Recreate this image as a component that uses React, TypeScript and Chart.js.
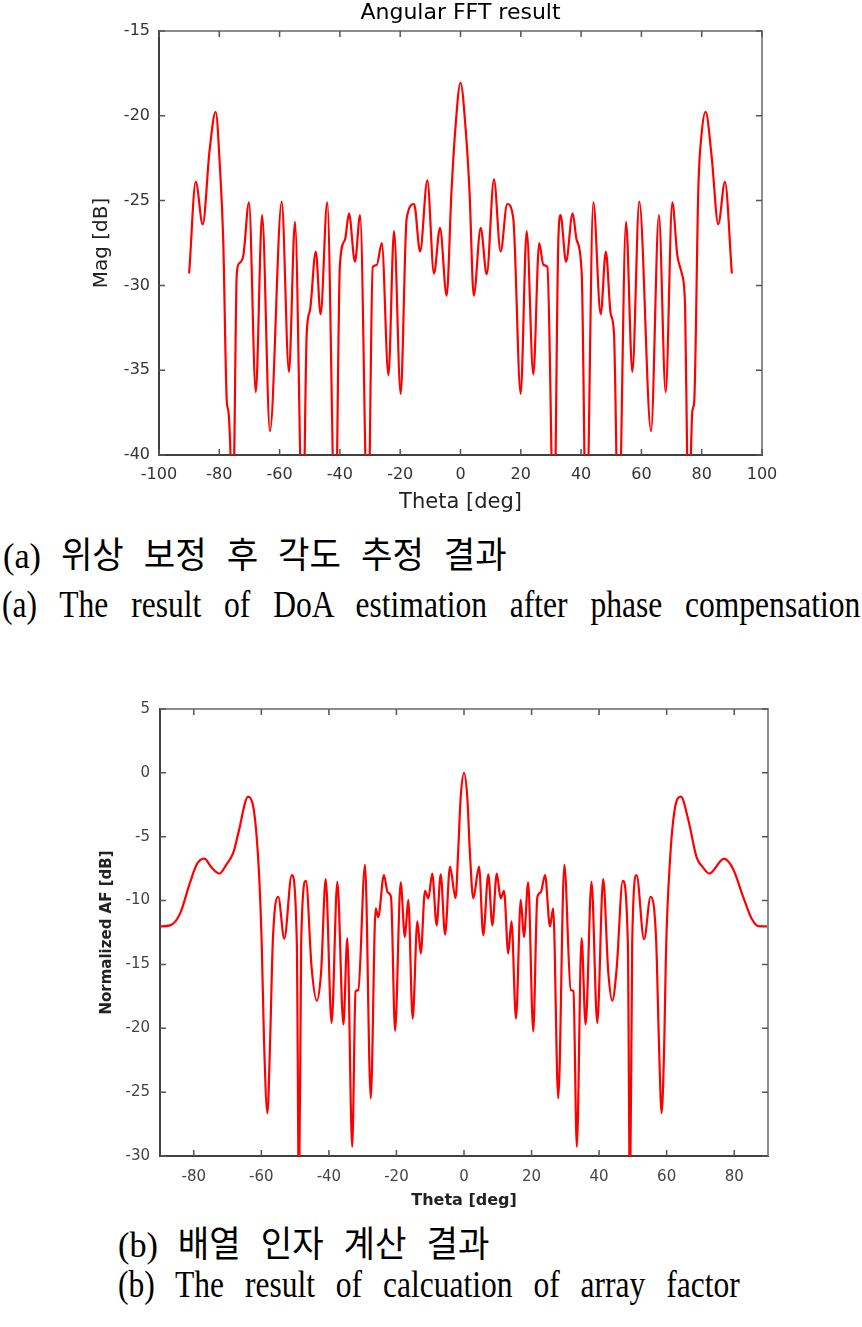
import React, { useEffect, useRef } from 'react';
import { Chart, registerables } from 'chart.js';

Chart.register(...registerables);

// ---------- (a) Angular FFT result ----------
const fftTheta = [
  -90, -87.8, -85.5, -83.2, -81.2, -79.8, -78.7, -77.5, -77.0, -76.2, -75.7, -75.1, -74.2, -73.4, -72.0,
  -70.15, -67.9, -65.8, -63.2, -59.3, -56.9, -54.9, -52.3, -51.0, -49.9, -48.0, -46.4, -44.2, -41.5,
  -40.0, -38.3, -37.0, -35.0, -33.3, -30.7, -29.1, -27.8, -26.1, -23.9, -22.05, -19.85, -17.85, -15.4,
  -13.4, -11.0, -8.8, -6.8, -4.6, -3.0, -1.8, 0, 1.8, 3.0, 4.4, 6.7, 8.7, 11.1, 13.3, 15.5, 17.5, 19.95,
  21.95, 24.15, 26.1, 27.5, 28.8, 31.0, 32.4, 33.2, 35.0, 37.2, 38.5, 40.2, 41.7, 44.05, 46.5, 48.2,
  49.8, 50.9, 52.4, 54.9, 57.0, 59.3, 63.2, 65.8, 68.05, 70.25, 71.9, 73.4, 74.5, 75.2, 75.8, 76.35,
  76.9, 77.5, 78.9, 80.0, 81.3, 83.3, 85.5, 87.7, 90,
];
const fftMag = [
  -29.3, -23.9, -26.4, -22.0, -19.76, -23.0, -27.3, -36.9, -37.4, -40.5, -45, -40.5, -29.3, -28.7, -28.2,
  -25.1, -36.3, -25.85, -38.6, -25.06, -35.1, -26.25, -45, -32.8, -31.45, -28.0, -31.7, -25.1, -45,
  -28.8, -27.3, -25.75, -28.6, -25.85, -45, -28.9, -28.8, -27.5, -35.3, -26.8, -36.4, -26.05, -25.2,
  -28.0, -23.8, -29.3, -26.6, -30.6, -24.5, -21.0, -18.05, -21.0, -24.5, -30.6, -26.6, -29.35, -23.75, -28.0, -25.2, -26.05, -36.4,
  -26.8, -35.25, -27.5, -28.8, -28.9, -45, -27.7, -25.85, -28.6, -25.75, -27.3, -29.3, -45, -25.1, -31.7, -28.0,
  -31.65, -32.8, -45, -26.25, -35.1, -25.06, -38.6, -25.85, -36.3, -25.1, -28.2, -29.3, -31.25, -40.5, -45, -40.5,
  -37.4, -36.9, -24.2, -21.0, -19.76, -22.4, -26.4, -23.9, -29.3,
];
const fftXTicks = [-100, -80, -60, -40, -20, 0, 20, 40, 60, 80, 100];
const fftYTicks = [-40, -35, -30, -25, -20, -15];

// ---------- (b) Normalized array factor ----------
const afTheta = [
  -90, -87.0, -84.1, -81.1, -79.1, -76.9, -74.7, -72.4, -70.3, -68.3, -66.8, -63.9, -62.4, -61.4, -60.6,
  -59.9, -59.2, -58.2, -57.4, -56.6, -55.0, -53.2, -51.0, -49.5, -48.85, -48.2, -46.8, -45.1, -43.6,
  -42.3, -40.95, -39.2, -37.5, -35.7, -34.55, -33.1, -32.1, -31.3, -29.3, -27.6, -26.15, -25.4, -23.7,
  -22.6, -21.6, -20.4, -18.75, -17.5, -16.5, -15.2, -13.8, -12.8, -11.55, -10.55, -9.4, -8.1, -6.9,
  -5.6, -4.15, -2.5, -1.7, -1.0, 0, 1.0, 1.7, 2.75, 4.45, 5.7, 7.2, 8.4, 9.7, 10.85, 11.85, 13.1, 14.05,
  15.4, 16.8, 17.75, 19.0, 20.5, 21.7, 22.7, 24.0, 25.45, 26.4, 27.9, 29.7, 31.6, 32.4, 33.4, 34.8,
  36.0, 37.75, 39.45, 41.2, 42.7, 43.9, 45.2, 47.0, 48.5, 49.15, 49.8, 51.1, 53.3, 55.25, 56.9, 57.7,
  58.5, 59.3, 59.8, 61.0, 62.3, 64.2, 66.4, 68.9, 70.8, 72.6, 77.0, 79.7, 82.7, 85.2, 87.1, 90,
];
const afDb = [
  -12.02, -11.94, -11.04, -8.58, -7.16, -6.72, -7.42, -7.88, -7.16, -6.25, -4.7, -1.86, -2.63, -4.96, -8.3,
  -13.2, -21.0, -26.64, -21.0, -13.2, -9.7, -12.98, -8.0, -13.2, -34, -13.2, -8.45, -15.3, -17.84,
  -15.56, -8.32, -19.57, -8.53, -19.7, -12.93, -29.28, -17.12, -17.0, -7.2, -25.5, -10.6, -11.3, -8.0,
  -9.36, -9.75, -20.2, -8.58, -12.85, -9.95, -19.24, -11.63, -14.14, -9.23, -9.83, -7.88, -11.94, -7.95,
  -12.67, -7.34, -9.8, -6.0, -2.0, 0, -2.0, -6.0, -9.82, -7.34, -12.7, -7.95, -11.94, -7.88, -9.83, -9.23, -14.14, -11.63,
  -19.24, -9.95, -12.85, -8.58, -20.25, -9.75, -9.36, -8.0, -12.02, -10.6, -25.5, -7.2, -17.0, -17.1, -29.28, -12.93,
  -19.7, -8.53, -19.57, -8.32, -15.56, -17.84, -15.3, -8.45, -13.2, -34, -13.2, -8.0, -13.03, -9.7, -13.2, -21.0,
  -26.64, -21.0, -14.0, -6.77, -3.0, -1.86, -3.67, -6.64, -7.42, -7.88, -6.72, -7.55, -9.75, -11.43, -12.0, -12.02,
];
const afXTicks = [-80, -60, -40, -20, 0, 20, 40, 60, 80];
const afYTicks = [-30, -25, -20, -15, -10, -5, 0, 5];

const SANS = "'DejaVu Sans', 'Liberation Sans', sans-serif";

const framePlugin = {
  id: 'frameTicks',
  afterDatasetsDraw(chart: any) {
    const { ctx, chartArea: a, scales } = chart;
    const xs = scales.x;
    const ys = scales.y;
    const L = 6;
    ctx.save();
    ctx.lineWidth = 2;
    ctx.strokeStyle = '#8c8c8c';
    ctx.beginPath();
    ctx.moveTo(a.left, a.top);
    ctx.lineTo(a.right, a.top);
    ctx.lineTo(a.right, a.bottom);
    ctx.stroke();
    ctx.lineWidth = 1.5;
    ctx.strokeStyle = '#555';
    ctx.beginPath();
    xs.ticks.forEach((t: any) => {
      const p = xs.getPixelForValue(t.value);
      ctx.moveTo(p, a.bottom);
      ctx.lineTo(p, a.bottom - L);
      ctx.moveTo(p, a.top);
      ctx.lineTo(p, a.top + L);
    });
    ys.ticks.forEach((t: any) => {
      const p = ys.getPixelForValue(t.value);
      ctx.moveTo(a.left, p);
      ctx.lineTo(a.left + L, p);
      ctx.moveTo(a.right, p);
      ctx.lineTo(a.right - L, p);
    });
    ctx.stroke();
    ctx.restore();
  },
};

function lineDataset(xs: number[], ys: number[]) {
  return {
    data: xs.map((x, i) => ({ x, y: ys[i] })),
    borderColor: '#ff0000',
    borderWidth: 2.2,
    pointRadius: 0,
    fill: false,
    cubicInterpolationMode: 'monotone' as const,
  };
}

function config1(): any {
  return {
    type: 'line',
    data: { datasets: [lineDataset(fftTheta, fftMag)] },
    plugins: [framePlugin],
    options: {
      responsive: false,
      animation: false,
      events: [],
      layout: { padding: { left: 0, right: 100, top: 0, bottom: 0 } },
      plugins: {
        legend: { display: false },
        tooltip: { enabled: false },
        title: {
          display: true,
          fullSize: false,
          text: 'Angular FFT result',
          color: '#000',
          font: { family: SANS, size: 22, weight: 'normal', lineHeight: '20px' },
          padding: { top: 3, bottom: 8 },
        },
      },
      scales: {
        x: {
          type: 'linear',
          position: 'bottom',
          min: -100,
          max: 100,
          afterBuildTicks: (s: any) => { s.ticks = fftXTicks.map((v) => ({ value: v })); },
          afterFit: (s: any) => { s.height = 65; },
          grid: { display: false, drawTicks: false },
          border: { display: true, color: '#404040', width: 2 },
          ticks: { font: { family: SANS, size: 16 }, color: '#333', padding: 10, maxRotation: 0, autoSkip: false },
          title: {
            display: true,
            text: 'Theta [deg]',
            color: '#222',
            font: { family: SANS, size: 21 },
            padding: { top: 0, bottom: 5 },
          },
        },
        y: {
          type: 'linear',
          min: -40,
          max: -15,
          afterBuildTicks: (s: any) => { s.ticks = fftYTicks.map((v) => ({ value: v })); },
          afterFit: (s: any) => { s.width = 159; },
          grid: { display: false, drawTicks: false },
          border: { display: true, color: '#404040', width: 2 },
          ticks: { font: { family: SANS, size: 16 }, color: '#333', padding: 9 },
          title: {
            display: true,
            text: 'Mag [dB]',
            color: '#222',
            font: { family: SANS, size: 20 },
            padding: { top: 90, bottom: 0 },
          },
        },
      },
    },
  };
}

function config2(): any {
  return {
    type: 'line',
    data: { datasets: [lineDataset(afTheta, afDb)] },
    plugins: [framePlugin],
    options: {
      responsive: false,
      animation: false,
      events: [],
      layout: { padding: { left: 0, right: 94, top: 15, bottom: 0 } },
      plugins: { legend: { display: false }, tooltip: { enabled: false }, title: { display: false } },
      scales: {
        x: {
          type: 'linear',
          position: 'bottom',
          min: -90,
          max: 90,
          afterBuildTicks: (s: any) => { s.ticks = afXTicks.map((v) => ({ value: v })); },
          afterFit: (s: any) => { s.height = 55; },
          grid: { display: false, drawTicks: false },
          border: { display: true, color: '#404040', width: 2 },
          ticks: { font: { family: SANS, size: 15 }, color: '#444', padding: 12, maxRotation: 0, autoSkip: false },
          title: {
            display: true,
            text: 'Theta [deg]',
            color: '#222',
            font: { family: SANS, size: 16, weight: 'bold' },
            padding: { top: 0, bottom: 1 },
          },
        },
        y: {
          type: 'linear',
          min: -30,
          max: 5,
          afterBuildTicks: (s: any) => { s.ticks = afYTicks.map((v) => ({ value: v })); },
          afterFit: (s: any) => { s.width = 160; },
          grid: { display: false, drawTicks: false },
          border: { display: true, color: '#404040', width: 2 },
          ticks: { font: { family: SANS, size: 15 }, color: '#444', padding: 10 },
          title: {
            display: true,
            text: 'Normalized AF [dB]',
            color: '#222',
            font: { family: SANS, size: 15, weight: 'bold' },
            padding: { top: 98, bottom: 0 },
          },
        },
      },
    },
  };
}

const capFont = "'Liberation Serif', 'Noto Sans CJK KR', serif";

const capBase: React.CSSProperties = {
  position: 'absolute',
  whiteSpace: 'nowrap',
  fontFamily: capFont,
  color: '#000',
  transformOrigin: '0 0',
  margin: 0,
};

export default function App() {
  const ref1 = useRef<HTMLCanvasElement>(null);
  const ref2 = useRef<HTMLCanvasElement>(null);

  useEffect(() => {
    const c1 = new Chart(ref1.current as HTMLCanvasElement, config1());
    const c2 = new Chart(ref2.current as HTMLCanvasElement, config2());
    return () => {
      c1.destroy();
      c2.destroy();
    };
  }, []);

  return (
    <div style={{ position: 'absolute', left: 0, top: 0, width: 862, height: 1327, background: '#fff', overflow: 'hidden' }}>
      <canvas
        ref={ref1}
        width={862}
        height={520}
        style={{ position: 'absolute', left: 0, top: 0, width: 862, height: 520 }}
      />
      <div style={{ ...capBase, left: 3, top: 538, fontSize: 36, lineHeight: '36px', wordSpacing: 12, transform: 'scaleX(0.95)' }}>
        (a) 위상 보정 후 각도 추정 결과
      </div>
      <div
        style={{
          ...capBase,
          left: 2,
          top: 585,
          fontSize: 38,
          lineHeight: '38px',
          width: 1034,
          textAlign: 'justify',
          textAlignLast: 'justify',
          transform: 'scaleX(0.83)',
        }}
      >
        (a) The result of DoA estimation after phase compensation
      </div>
      <canvas
        ref={ref2}
        width={862}
        height={521}
        style={{ position: 'absolute', left: 0, top: 690, width: 862, height: 521 }}
      />
      <div style={{ ...capBase, left: 118, top: 1227, fontSize: 36, lineHeight: '36px', wordSpacing: 12, transform: 'scaleX(0.95)' }}>
        (b) 배열 인자 계산 결과
      </div>
      <div
        style={{
          ...capBase,
          left: 118,
          top: 1265,
          fontSize: 38,
          lineHeight: '38px',
          width: 749,
          textAlign: 'justify',
          textAlignLast: 'justify',
          transform: 'scaleX(0.83)',
        }}
      >
        (b) The result of calcuation of array factor
      </div>
    </div>
  );
}
